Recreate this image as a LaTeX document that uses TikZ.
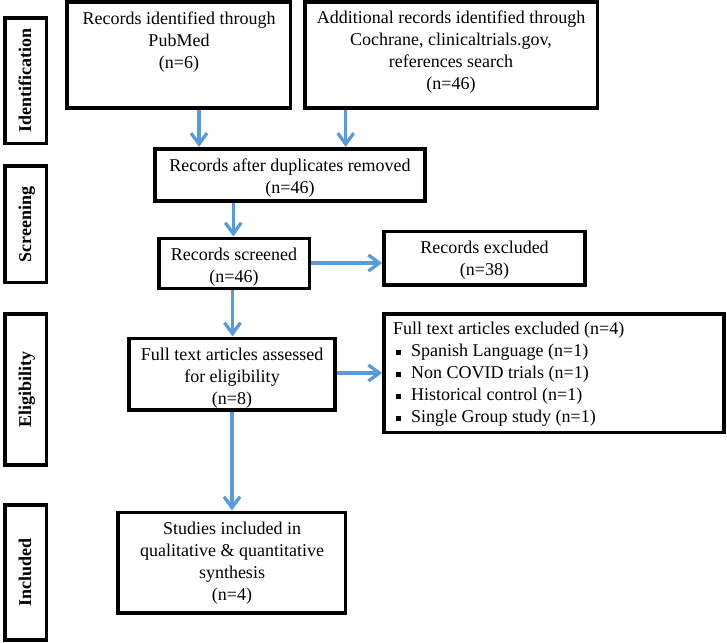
\documentclass[tikz,border=0pt]{standalone}
\usepackage{fontspec}
\setmainfont{Liberation Serif}
\usetikzlibrary{arrows.meta}
\definecolor{arrowblue}{HTML}{5B9BD5}
\newcommand{\bulsq}{\makebox[18pt][l]{\hspace{2.5pt}\rule[2pt]{4.8pt}{4.8pt}}}
\begin{document}
\begin{tikzpicture}[x=1pt,y=-1pt,
  box/.style={draw=black, line width=3.6pt, rectangle, inner sep=0pt},
  txt/.style={align=center, inner sep=0pt, font=\fontsize{18pt}{22pt}\selectfont},
  side/.style={rotate=90, anchor=base, inner sep=0pt, font=\fontsize{18pt}{22pt}\selectfont\bfseries},
  flow/.style={draw=arrowblue, line width=3.3pt, -{Straight Barb[length=11pt,width=16pt]}}
]
\useasboundingbox (0,0) rectangle (727,642);

% phase boxes
\node[box, minimum width=41.5pt, minimum height=125.4pt] (idb) at (25.75,80.7) {};
\node[box, minimum width=41.5pt, minimum height=116.5pt] (scb) at (25.75,224.25) {};
\node[box, minimum width=41.5pt, minimum height=150.7pt] (elb) at (25.75,389.35) {};
\node[box, minimum width=41.5pt, minimum height=135pt] (inb) at (25.75,572.5) {};
\node[side] (idl) at (31,80.7) {Identification};
\node[side] (scl) at (31,224.25) {Screening};
\node[side] (ell) at (31,389.35) {Eligibility};
\node[side] (inl) at (31,572.5) {Included};

% flow boxes
\node[box, minimum width=223.5pt, minimum height=106pt] (pub) at (178.75,55) {};
\node[box, minimum width=292.5pt, minimum height=106pt] (add) at (451.25,55) {};
\node[box, minimum width=270pt, minimum height=52.3pt] (dup) at (290,174.85) {};
\node[box, minimum width=150.8pt, minimum height=50pt] (scr) at (234.1,263.3) {};
\node[box, minimum width=201pt, minimum height=53.5pt] (exc) at (484.5,258.25) {};
\node[box, minimum width=206.3pt, minimum height=71.7pt] (ft) at (231.85,374.15) {};
\node[box, minimum width=340pt, minimum height=118.5pt] (fex) at (554,373.25) {};
\node[box, minimum width=227.3pt, minimum height=100.4pt] (stu) at (231.65,562.5) {};

% texts
\node[txt] (pubt) at (179,42) {Records identified through\\PubMed\\(n=6)};
\node[txt] (addt) at (451,52.5) {Additional records identified through\\Cochrane, clinicaltrials.gov,\\references search\\(n=46)};
\node[txt] (dupt) at (290,178.5) {Records after duplicates removed\\(n=46)};
\node[txt] (scrt) at (234,267.5) {Records screened\\(n=46)};
\node[txt] (exct) at (484.5,260.5) {Records excluded\\(n=38)};
\node[txt] (ftt) at (232,377.7) {Full text articles assessed\\for eligibility\\(n=8)};
\node[txt, align=left, anchor=west] (fext) at (393,374.6) {Full text articles excluded (n=4)\\
\bulsq Spanish Language (n=1)\\
\bulsq Non COVID trials (n=1)\\
\bulsq Historical control (n=1)\\
\bulsq Single Group study (n=1)};
\node[txt] (stut) at (232,562.75) {Studies included in\\qualitative \& quantitative\\synthesis\\(n=4)};

% arrow guide coordinates
\coordinate (xa) at (199,0);
\coordinate (xb) at (345.7,0);
\coordinate (xc) at (233.3,0);
\coordinate (xd) at (232.5,0);
\coordinate (xe) at (232,0);
\coordinate (ya) at (0,263);
\coordinate (yb) at (0,373);

\draw[flow] (pub.south -| xa) -- (dup.north -| xa);
\draw[flow] (add.south -| xb) -- (dup.north -| xb);
\draw[flow] (dup.south -| xc) -- (scr.north -| xc);
\draw[flow] (scr.east |- ya) -- (exc.west |- ya);
\draw[flow] (scr.south -| xd) -- (ft.north -| xd);
\draw[flow] (ft.east |- yb) -- (fex.west |- yb);
\draw[flow] (ft.south -| xe) -- (stu.north -| xe);
\end{tikzpicture}
\end{document}
